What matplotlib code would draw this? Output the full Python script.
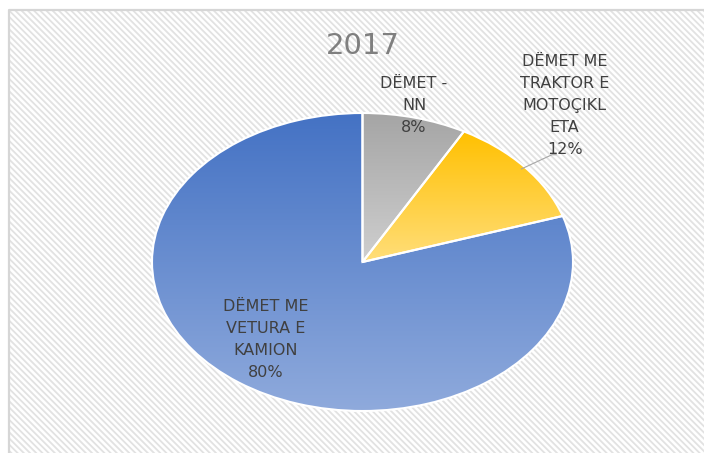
import numpy as np
import matplotlib
matplotlib.use('Agg')
import matplotlib.pyplot as plt
from matplotlib.colors import LinearSegmentedColormap

# data
labels = ['DËMET -\nNN', 'DËMET ME\nTRAKTOR E\nMOTOÇIKL\nETA', 'DËMET ME\nVETURA E\nKAMION']
shares = [8, 12, 80]
title = '2017'

# gradient colours per slice (top -> bottom)
grads = [('#A5A5A5', '#CFCFCF'), ('#FFC000', '#FFDE7A'), ('#4472C4', '#8FAADC')]

W, H = 704, 453
fig = plt.figure(figsize=(W / 100, H / 100), dpi=100)
fig.patch.set_facecolor('white')

# chart area background: thin diagonal stripes + grey frame on left/top
bg = fig.add_axes([0, 0, 1, 1], zorder=-5)
bg.set_xlim(0, W)
bg.set_ylim(0, H)
bg.axis('off')
x0, y0 = 8.5, H - 9.5
for c in np.arange(x0 - H, W + H, 6.2):
    bg.plot([c, c + H], [y0, y0 - H], color='#e2e2e2', lw=1.3, solid_capstyle='butt')
bg.fill_between([0, x0 - 1], 0, H, color='white', zorder=3)
bg.fill_between([0, W], y0 + 1, H, color='white', zorder=3)
bg.plot([x0, x0, W], [0, y0, y0], color='#d6d6d6', lw=1.6, zorder=4)

fig.text(363 / W, 1 - 46 / H, title, ha='center', va='center', fontsize=21, color='#7f7f7f')

ax = fig.add_axes([152 / W, 42 / H, 421 / W, 298 / H])
ax.axis('off')
ax.patch.set_alpha(0)

wedges, _ = ax.pie(shares, startangle=90, counterclock=False, radius=1,
                   wedgeprops=dict(facecolor='none', edgecolor='white', linewidth=1.5))
ax.set_aspect('auto')

for w, (c0, c1) in zip(wedges, grads):
    t = np.radians(np.linspace(w.theta1, w.theta2, 200))
    xs = np.concatenate([[0], np.cos(t)])
    ys = np.concatenate([[0], np.sin(t)])
    cmap = LinearSegmentedColormap.from_list('g', [c1, c0])
    grad = np.linspace(0, 1, 256).reshape(-1, 1)
    im = ax.imshow(grad, cmap=cmap, origin='lower', aspect='auto',
                   extent=[xs.min(), xs.max(), ys.min(), ys.max()], zorder=1)
    im.set_clip_path(w)
    w.set_zorder(2)
ax.set_xlim(-1, 1)
ax.set_ylim(-1, 1)

txt = dict(ha='center', va='center', fontsize=11.5, color='#404040', linespacing=1.6)
pct = ['%d%%' % s for s in shares]
ax.text(0.245, 1.05, labels[0] + '\n' + pct[0], **txt)
ax.text(0.96, 1.05, labels[1] + '\n' + pct[1], **txt)
ax.text(-0.46, -0.52, labels[2] + '\n' + pct[2], **txt)

# leader line for the yellow slice
mid = np.radians((wedges[1].theta1 + wedges[1].theta2) / 2)
ax.plot([np.cos(mid) * 0.98, 0.9, 0.92], [np.sin(mid) * 0.98, 0.72, 0.72],
        color='#a6a6a6', lw=0.8)

fig.savefig('out.png', dpi=100)
